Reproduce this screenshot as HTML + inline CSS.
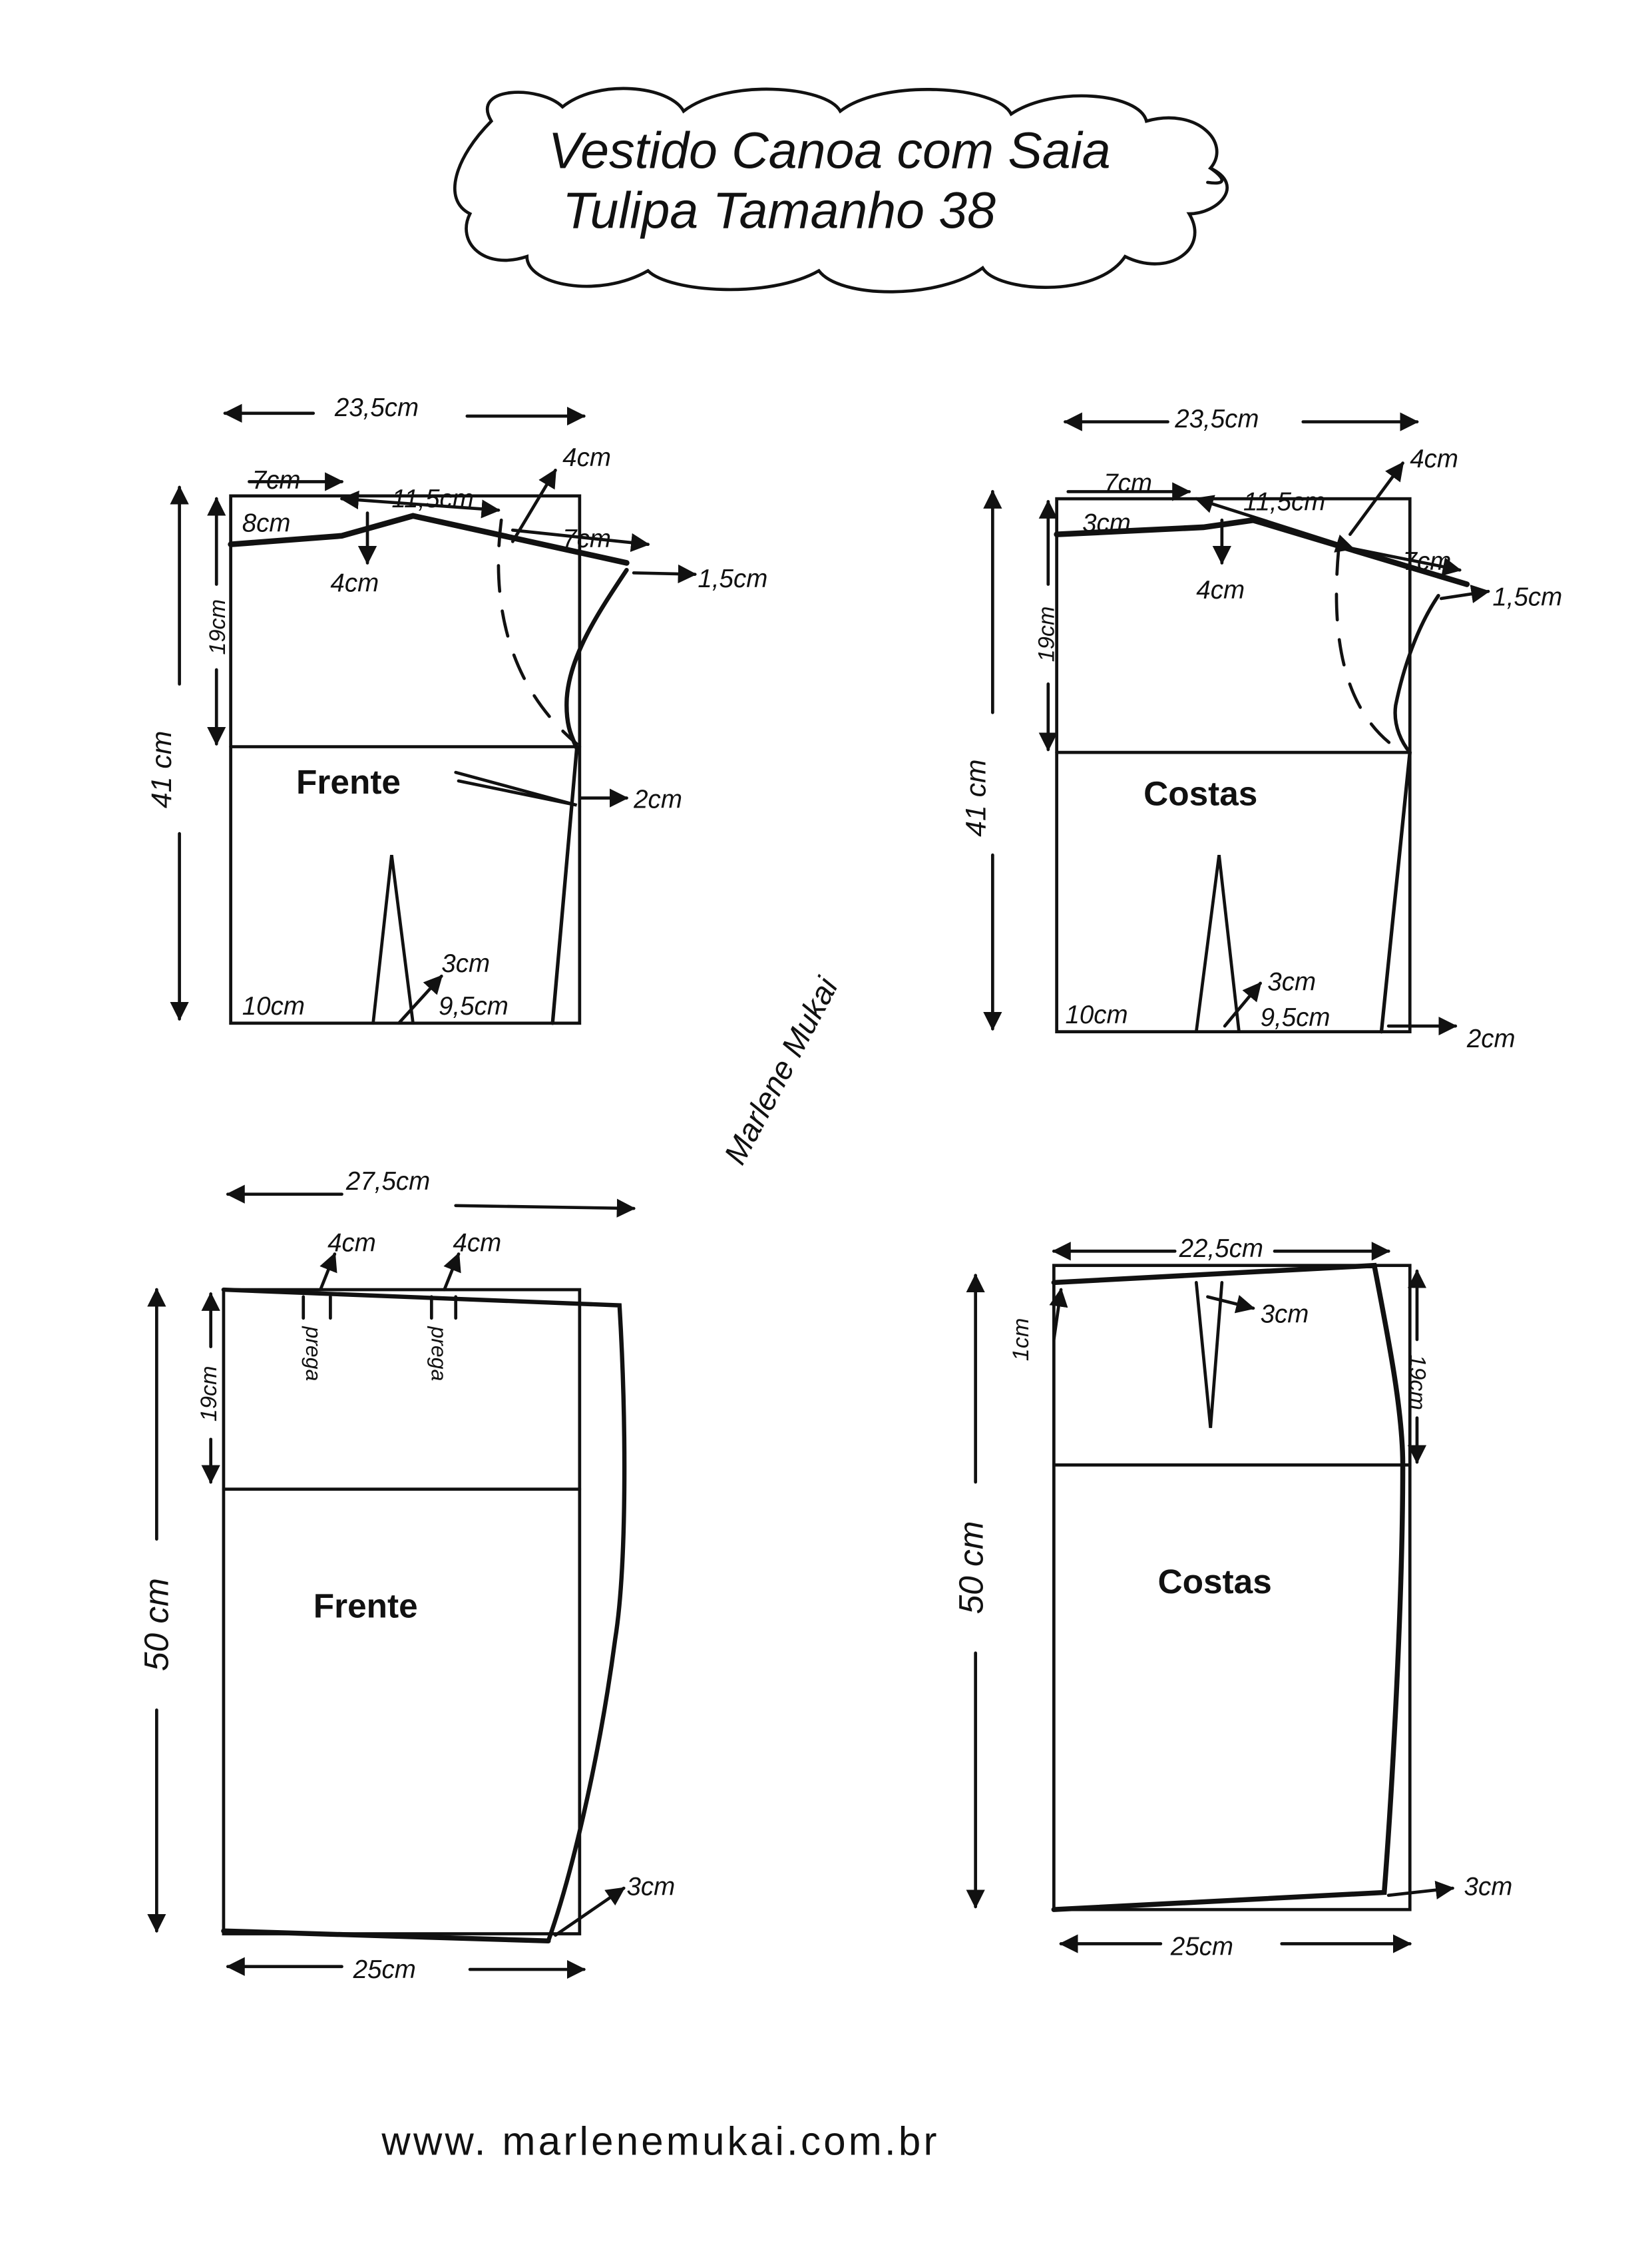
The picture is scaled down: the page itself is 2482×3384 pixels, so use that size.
<!DOCTYPE html>
<html><head><meta charset="utf-8"><style>
html,body{margin:0;padding:0;background:#fff;}
svg{display:block;}
text{font-family:"Liberation Sans",sans-serif;fill:#111;}
</style></head><body>
<svg width="2482" height="3384" viewBox="0 0 1160 1581" preserveAspectRatio="none" xmlns="http://www.w3.org/2000/svg">
<defs>
<marker id="a" viewBox="0 0 10 10" refX="9" refY="5" markerWidth="6" markerHeight="6" orient="auto-start-reverse"><path d="M0,0L10,5L0,10z" fill="#111"/></marker>
</defs>
<g stroke="#111" fill="none" stroke-width="2.2" stroke-linecap="round">
<path d="M345,85 C330,60 380,60 395,75 C420,55 470,60 480,78 C510,55 580,60 590,78 C620,55 700,60 710,80 C740,60 800,65 805,85 C840,75 865,100 850,118 C875,130 855,150 835,150 C850,175 820,195 790,180 C770,210 700,205 690,188 C660,210 590,210 575,190 C540,210 470,205 455,190 C420,210 370,200 370,180 C340,190 320,170 330,150 C310,140 320,110 345,85Z"/>
<path d="M850,118 C860,125 862,130 848,128"/>

<rect x="162" y="348" width="245" height="370"/>
<line x1="162" y1="524" x2="407" y2="524"/>
<line x1="126" y1="342" x2="126" y2="480" marker-start="url(#a)"/>
<line x1="126" y1="585" x2="126" y2="715" marker-end="url(#a)"/>
<line x1="152" y1="350" x2="152" y2="410" marker-start="url(#a)"/>
<line x1="152" y1="470" x2="152" y2="522" marker-end="url(#a)"/>
<line x1="158" y1="290" x2="220" y2="290" marker-start="url(#a)"/>
<line x1="328" y1="292" x2="410" y2="292" marker-end="url(#a)"/>
<path d="M162,382 L240,376 L290,362 L440,395" stroke-width="4"/>
<path d="M440,400 C420,430 400,460 398,490 C397,510 402,518 405,525" stroke-width="3"/>
<path d="M352,365 C345,420 355,480 405,522" stroke-dasharray="18,14"/>
<path d="M405,525 L388,718" stroke-width="2.5"/>
<path d="M320,542 L405,565 L322,548" />
<path d="M262,718 L275,600 L290,718"/>
<line x1="175" y1="338" x2="240" y2="338" marker-end="url(#a)"/>
<line x1="240" y1="350" x2="350" y2="358" marker-start="url(#a)" marker-end="url(#a)"/>
<line x1="360" y1="372" x2="455" y2="382" marker-end="url(#a)"/>
<line x1="258" y1="360" x2="258" y2="395" marker-end="url(#a)"/>
<line x1="360" y1="380" x2="390" y2="330" marker-end="url(#a)"/>
<line x1="445" y1="402" x2="488" y2="403" marker-end="url(#a)"/>
<line x1="408" y1="560" x2="440" y2="560" marker-end="url(#a)"/>
<line x1="280" y1="718" x2="310" y2="685" marker-end="url(#a)"/>

<rect x="742" y="350" width="248" height="374"/>
<line x1="742" y1="528" x2="990" y2="528"/>
<line x1="697" y1="345" x2="697" y2="500" marker-start="url(#a)"/>
<line x1="697" y1="600" x2="697" y2="722" marker-end="url(#a)"/>
<line x1="736" y1="352" x2="736" y2="410" marker-start="url(#a)"/>
<line x1="736" y1="480" x2="736" y2="526" marker-end="url(#a)"/>
<line x1="748" y1="296" x2="820" y2="296" marker-start="url(#a)"/>
<line x1="915" y1="296" x2="995" y2="296" marker-end="url(#a)"/>
<path d="M742,375 L845,370 L880,365 L1030,410" stroke-width="4"/>
<path d="M1010,418 C995,440 985,470 980,495 C978,510 985,522 990,528" stroke-width="2.5"/>
<path d="M940,385 C935,440 940,500 985,528" stroke-dasharray="18,14"/>
<path d="M990,528 L970,724" stroke-width="2.5"/>
<path d="M840,724 L856,600 L870,724"/>
<line x1="750" y1="345" x2="835" y2="345" marker-end="url(#a)"/>
<line x1="840" y1="350" x2="950" y2="385" marker-start="url(#a)" marker-end="url(#a)"/>
<line x1="950" y1="385" x2="1025" y2="400" marker-end="url(#a)"/>
<line x1="858" y1="365" x2="858" y2="395" marker-end="url(#a)"/>
<line x1="948" y1="375" x2="985" y2="325" marker-end="url(#a)"/>
<line x1="1012" y1="420" x2="1045" y2="415" marker-end="url(#a)"/>
<line x1="860" y1="720" x2="885" y2="690" marker-end="url(#a)"/>
<line x1="975" y1="720" x2="1022" y2="720" marker-end="url(#a)"/>

<rect x="157" y="905" width="250" height="452"/>
<line x1="157" y1="1045" x2="407" y2="1045"/>
<path d="M157,905 L435,916 C440,1000 440,1100 432,1150 C420,1240 400,1320 385,1362" stroke-width="3"/>
<path d="M157,1355 L385,1362" stroke-width="3.5"/>
<line x1="110" y1="905" x2="110" y2="1080" marker-start="url(#a)"/>
<line x1="110" y1="1200" x2="110" y2="1355" marker-end="url(#a)"/>
<line x1="148" y1="908" x2="148" y2="945" marker-start="url(#a)"/>
<line x1="148" y1="1010" x2="148" y2="1040" marker-end="url(#a)"/>
<line x1="160" y1="838" x2="240" y2="838" marker-start="url(#a)"/>
<line x1="320" y1="846" x2="445" y2="848" marker-end="url(#a)"/>
<line x1="160" y1="1380" x2="240" y2="1380" marker-start="url(#a)"/>
<line x1="330" y1="1382" x2="410" y2="1382" marker-end="url(#a)"/>
<line x1="213" y1="910" x2="213" y2="925"/><line x1="232" y1="910" x2="232" y2="925"/>
<line x1="303" y1="910" x2="303" y2="925"/><line x1="320" y1="910" x2="320" y2="925"/>
<line x1="225" y1="905" x2="235" y2="880" marker-end="url(#a)"/>
<line x1="312" y1="905" x2="322" y2="880" marker-end="url(#a)"/>
<line x1="390" y1="1358" x2="438" y2="1325" marker-end="url(#a)"/>

<rect x="740" y="888" width="250" height="452"/>
<line x1="740" y1="1028" x2="990" y2="1028"/>
<path d="M740,900 L965,888 C975,940 985,990 985,1028 C985,1120 978,1250 972,1328 L740,1340" stroke-width="3.5"/>
<path d="M840,900 L850,1002 L858,900"/>
<line x1="685" y1="895" x2="685" y2="1040" marker-start="url(#a)"/>
<line x1="685" y1="1160" x2="685" y2="1338" marker-end="url(#a)"/>
<line x1="995" y1="892" x2="995" y2="940" marker-start="url(#a)"/>
<line x1="995" y1="995" x2="995" y2="1026" marker-end="url(#a)"/>
<line x1="740" y1="878" x2="825" y2="878" marker-start="url(#a)"/>
<line x1="895" y1="878" x2="975" y2="878" marker-end="url(#a)"/>
<line x1="745" y1="1364" x2="815" y2="1364" marker-start="url(#a)"/>
<line x1="900" y1="1364" x2="990" y2="1364" marker-end="url(#a)"/>
<line x1="848" y1="910" x2="880" y2="918" marker-end="url(#a)"/>
<line x1="975" y1="1330" x2="1020" y2="1325" marker-end="url(#a)"/>
<line x1="740" y1="940" x2="745" y2="905" marker-end="url(#a)"/>
</g>

<g font-size="36" font-style="italic">
<text x="385" y="118">Vestido Canoa  com Saia</text>
<text x="395" y="160">Tulipa   Tamanho 38</text>
</g>
<g font-size="18" font-style="italic">
<text x="235" y="292">23,5cm</text>
<text x="177" y="343">7cm</text>
<text x="170" y="373">8cm</text>
<text x="275" y="356">11,5cm</text>
<text x="395" y="327">4cm</text>
<text x="395" y="384">7cm</text>
<text x="232" y="415">4cm</text>
<text x="490" y="412">1,5cm</text>
<text x="445" y="567">2cm</text>
<text x="310" y="682">3cm</text>
<text x="170" y="712">10cm</text>
<text x="308" y="712">9,5cm</text>
<text x="825" y="300">23,5cm</text>
<text x="775" y="345">7cm</text>
<text x="760" y="373">3cm</text>
<text x="873" y="358">11,5cm</text>
<text x="990" y="328">4cm</text>
<text x="985" y="400">7cm</text>
<text x="840" y="420">4cm</text>
<text x="1048" y="425">1,5cm</text>
<text x="890" y="695">3cm</text>
<text x="748" y="718">10cm</text>
<text x="885" y="720">9,5cm</text>
<text x="1030" y="735">2cm</text>
<text x="243" y="835">27,5cm</text>
<text x="230" y="878">4cm</text>
<text x="318" y="878">4cm</text>
<text x="440" y="1330">3cm</text>
<text x="248" y="1388">25cm</text>
<text x="828" y="882">22,5cm</text>
<text x="885" y="928">3cm</text>
<text x="1028" y="1330">3cm</text>
<text x="822" y="1372">25cm</text>
</g>
<g font-size="24" font-weight="bold">
<text x="208" y="557">Frente</text>
<text x="803" y="565">Costas</text>
<text x="220" y="1135">Frente</text>
<text x="813" y="1118">Costas</text>
</g>
<g font-size="20" font-style="italic">
<text transform="translate(120,540) rotate(-90)" text-anchor="middle">41 cm</text>
<text transform="translate(692,560) rotate(-90)" text-anchor="middle">41 cm</text>
<text transform="translate(158,440) rotate(-90)" text-anchor="middle" font-size="16">19cm</text>
<text transform="translate(740,445) rotate(-90)" text-anchor="middle" font-size="16">19cm</text>
<text transform="translate(152,978) rotate(-90)" text-anchor="middle" font-size="16">19cm</text>
<text transform="translate(990,970) rotate(90)" text-anchor="middle" font-size="16">19cm</text>
<text transform="translate(722,940) rotate(-90)" text-anchor="middle" font-size="16">1cm</text>
<text transform="translate(118,1140) rotate(-90)" text-anchor="middle" font-size="24">50 cm</text>
<text transform="translate(690,1100) rotate(-90)" text-anchor="middle" font-size="24">50 cm</text>
<text transform="translate(215,950) rotate(90)" text-anchor="middle" font-size="15">prega</text>
<text transform="translate(303,950) rotate(90)" text-anchor="middle" font-size="15">prega</text>
</g>
<text transform="translate(555,755) rotate(-62)" text-anchor="middle" font-size="22" font-style="italic" font-family="Liberation Serif">Marlene Mukai</text>
<text x="268" y="1512" font-size="28" letter-spacing="2">www. marlenemukai.com.br</text>
</svg>
</body></html>
